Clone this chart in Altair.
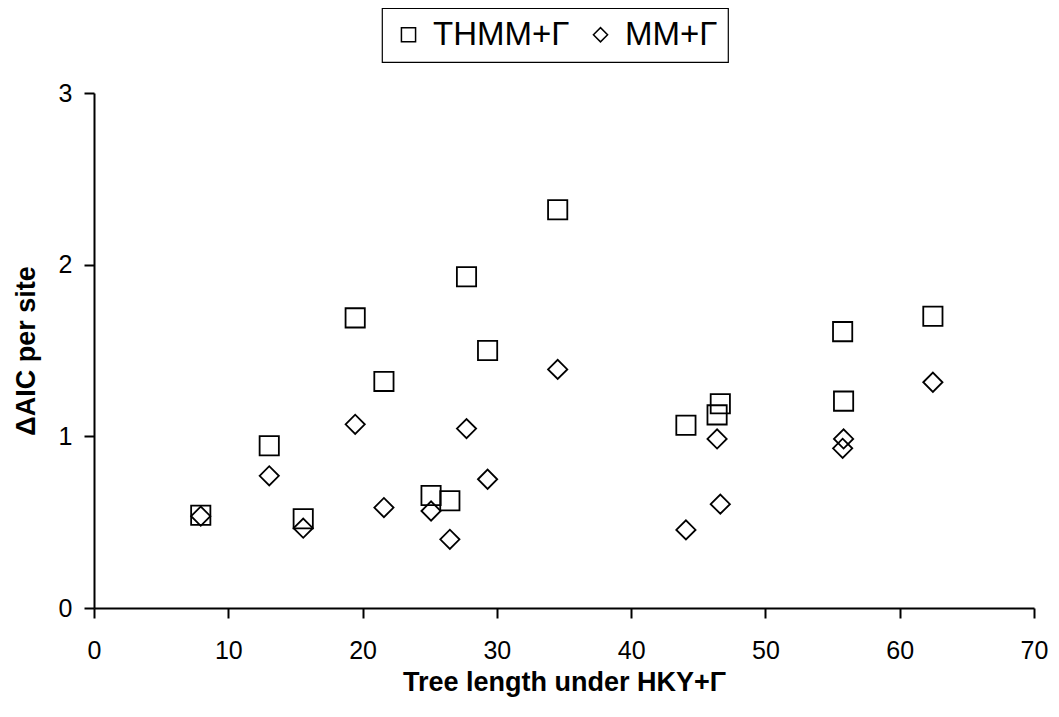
import altair as alt
import pandas as pd

# Tree length under HKY+Γ (shared x for both series)
tree_length = [7.95, 13.05, 15.58, 19.45, 21.59, 25.1, 26.5, 27.74, 29.31,
               34.53, 44.08, 46.4, 46.64, 55.75, 55.82, 62.47]
# ΔAIC per site, THMM+Γ
thmm_gamma = [0.54, 0.945, 0.52, 1.69, 1.32, 0.655, 0.625, 1.93, 1.50,
              2.32, 1.065, 1.125, 1.19, 1.61, 1.205, 1.70]
# ΔAIC per site, MM+Γ
mm_gamma = [0.535, 0.77, 0.465, 1.07, 0.585, 0.565, 0.40, 1.045, 0.75,
            1.39, 0.455, 0.985, 0.605, 0.93, 0.985, 1.315]

series_names = ["THMM+Γ", "MM+Γ"]
x_ticks = [0, 10, 20, 30, 40, 50, 60, 70]
y_ticks = [0, 1, 2, 3]

rows = []
for name, vals in zip(series_names, [thmm_gamma, mm_gamma]):
    for xv, yv in zip(tree_length, vals):
        rows.append({"series": name, "x": xv, "y": yv})
df = pd.DataFrame(rows)

FONT = "Liberation Sans"

chart = alt.Chart(df).mark_point(
    filled=False, stroke="black", strokeWidth=1.8, size=370, opacity=1
).encode(
    x=alt.X("x:Q", scale=alt.Scale(domain=[0, 70], nice=False, zero=False),
            axis=alt.Axis(values=x_ticks, title="Tree length under HKY+Γ")),
    y=alt.Y("y:Q", scale=alt.Scale(domain=[0, 3], nice=False),
            axis=alt.Axis(values=y_ticks, title="ΔAIC per site")),
    shape=alt.Shape("series:N",
                    scale=alt.Scale(domain=series_names, range=["square", "diamond"]),
                    legend=alt.Legend(title=None, orient="none", legendX=288, legendY=-85,
                                      direction="horizontal")),
).properties(
    width=940, height=515,
    autosize=alt.AutoSizeParams(type="none"),
    padding={"left": 86, "top": 85, "right": 17, "bottom": 94},
).configure_view(
    stroke=None
).configure_axis(
    grid=False,
    domainColor="black", domainWidth=2,
    tickColor="black", tickWidth=2, tickSize=10,
    labelFont=FONT, labelFontSize=25, labelColor="black",
    titleFont=FONT, titleFontSize=27, titleFontWeight="bold", titleColor="black",
).configure_axisX(
    labelPadding=20, titlePadding=6, labelFlush=False,
).configure_axisY(
    labelPadding=12, titlePadding=18, labelFlush=False,
).configure_legend(
    strokeColor="black", strokeWidth=1.2, padding=10,
    labelFont=FONT, labelFontSize=33, labelColor="black",
    symbolSize=200, symbolStrokeWidth=1.5, symbolStrokeColor="black",
    symbolFillColor="transparent", columnPadding=14, labelOffset=8,
)

chart.save("out.html", embed_options={"renderer": "svg", "actions": False})
